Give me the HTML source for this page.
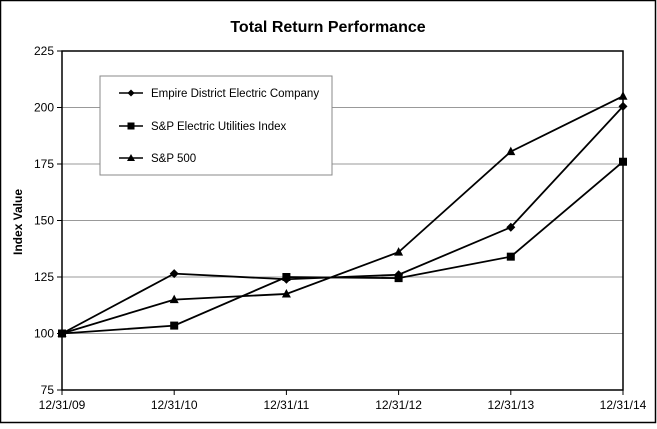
<!DOCTYPE html>
<html><head><meta charset="utf-8"><style>
body{margin:0;background:#fff}
svg text{font-family:"Liberation Sans",Arial,sans-serif;fill:#000}
</style></head><body>
<svg width="657" height="424" xmlns="http://www.w3.org/2000/svg">
<rect x="0.5" y="0.5" width="655" height="422" fill="#fff" stroke="#000" stroke-width="1.5"/>
<text x="328" y="32" font-size="16" font-weight="bold" text-anchor="middle">Total Return Performance</text>
<text transform="translate(22,222) rotate(-90)" font-size="12" font-weight="bold" text-anchor="middle">Index Value</text>
<g id="grid"></g>
<g id="axes"></g>
<g id="series"></g>
<g>
<rect x="100" y="76" width="232" height="99" fill="#fff" stroke="#888" stroke-width="1"/>
<line x1="119" y1="93" x2="143" y2="93" stroke="#000" stroke-width="1.5"/><path d="M131 89.5L134.5 93L131 96.5L127.5 93Z"/>
<text x="151" y="97" font-size="11.5">Empire District Electric Company</text>
<line x1="119" y1="126" x2="143" y2="126" stroke="#000" stroke-width="1.5"/><rect x="127.5" y="122.5" width="7" height="7"/>
<text x="151" y="130" font-size="11.5">S&amp;P Electric Utilities Index</text>
<line x1="119" y1="158" x2="143" y2="158" stroke="#000" stroke-width="1.5"/><path d="M131 154L135 161L127 161Z"/>
<text x="151" y="162" font-size="11.5">S&amp;P 500</text>
</g>
</svg>
<script>
const categories=["12/31/09","12/31/10","12/31/11","12/31/12","12/31/13","12/31/14"];
const empire=[100,126.5,124,126,147,200.5];
const spElectric=[100,103.5,125,124.5,134,176];
const sp500=[100,115,117.5,136,180.5,205];
const yTicks=[75,100,125,150,175,200,225];
const L=62,R=623,T=51,B=390,ymin=75,ymax=225;
const xs=i=>L+(R-L)*i/(categories.length-1);
const ys=v=>B-(v-ymin)/(ymax-ymin)*(B-T);
const NS="http://www.w3.org/2000/svg";
function mk(t,a,p){const e=document.createElementNS(NS,t);for(const k in a)e.setAttribute(k,a[k]);p.appendChild(e);return e;}
const grid=document.getElementById('grid'),axes=document.getElementById('axes'),ser=document.getElementById('series');
yTicks.forEach(v=>{
 if(v>ymin&&v<ymax){const g=mk('line',{x1:L,x2:R,y1:ys(v),y2:ys(v),stroke:'#999','stroke-width':1},grid);
 
 }
 const tk=mk('line',{x1:L-5,x2:L,y1:ys(v),y2:ys(v),stroke:'#000'},axes);
 
 
 const t=mk('text',{x:L-8,y:ys(v)+4,'font-size':12,'text-anchor':'end'},axes);t.textContent=v;
 
 
});
const frame=mk('rect',{x:L,y:T,width:R-L,height:B-T,fill:'none',stroke:'#000','stroke-width':1.5},axes);


categories.forEach((c,i)=>{
 const tk=mk('line',{x1:xs(i),x2:xs(i),y1:B,y2:B+5,stroke:'#000'},axes);
 
 
 const t=mk('text',{x:xs(i),y:B+19,'font-size':12,'text-anchor':'middle'},axes);t.textContent=c;
 
 
});
function series(vals,name,marker){
 const g=mk('g',{},ser);
 
 
 mk('polyline',{points:vals.map((v,i)=>xs(i)+','+ys(v)).join(' '),fill:'none',stroke:'#000','stroke-width':1.8},g);
 vals.forEach((v,i)=>{const x=xs(i),y=ys(v);let m;
  if(marker==='d')m=mk('path',{d:`M${x} ${y-4.5}L${x+4.5} ${y}L${x} ${y+4.5}L${x-4.5} ${y}Z`},g);
  else if(marker==='s')m=mk('rect',{x:x-4,y:y-4,width:8,height:8},g);
  else m=mk('path',{d:`M${x} ${y-5}L${x+4.5} ${y+3.5}L${x-4.5} ${y+3.5}Z`},g);
  
  
 });
}
series(empire,'empire-series','d');
series(spElectric,'sp-electric-series','s');
series(sp500,'sp500-series','t');
</script>
</body></html>
